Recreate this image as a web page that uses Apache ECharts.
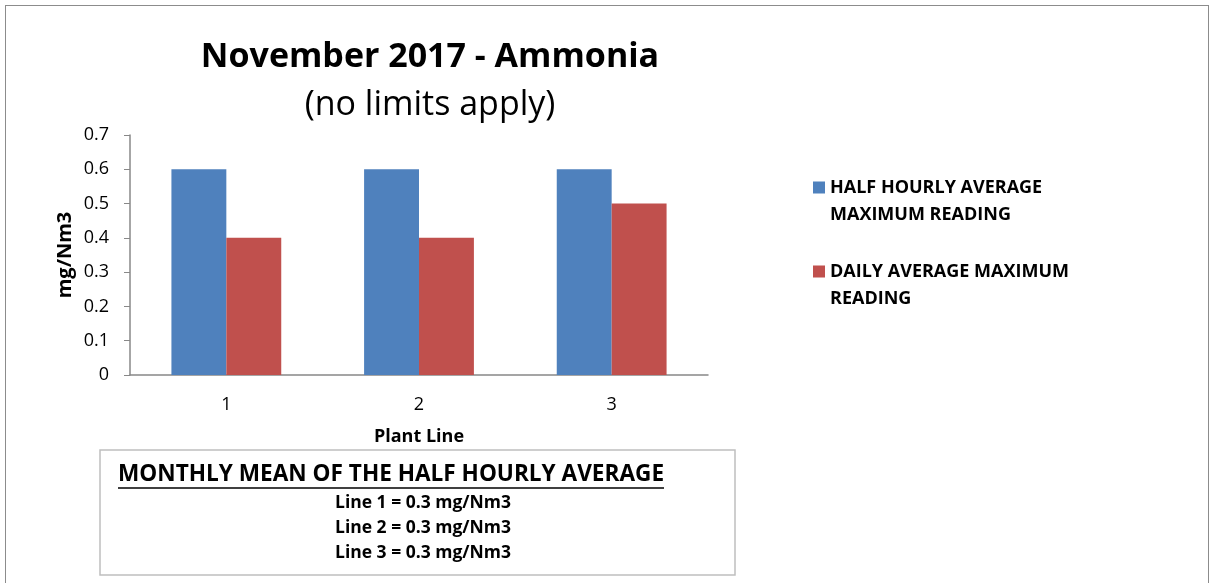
<!DOCTYPE html>
<html>
<head>
<meta charset="utf-8">
<script src="https://cdn.jsdelivr.net/npm/echarts@6/dist/echarts.min.js"></script>
<style>
  html, body { margin: 0; padding: 0; background: #fff; overflow: hidden; }
  #frame { position: absolute; left: 5px; top: 5px; width: 1202px; height: 600px; border: 1px solid #8c8c8c; }
  #main { position: absolute; left: 0; top: 0; width: 1211px; height: 583px; }
</style>
</head>
<body>
<div id="frame"></div>
<div id="main"></div>
<script>
var categories = ['1', '2', '3'];
var halfHourly = [0.6, 0.6, 0.6];
var dailyAvg = [0.4, 0.4, 0.5];
var yTicks = [0, 0.1, 0.2, 0.3, 0.4, 0.5, 0.6, 0.7];
var boxLines = ['Line 1 = 0.3 mg/Nm3', 'Line 2 = 0.3 mg/Nm3', 'Line 3 = 0.3 mg/Nm3'];

var font = 'Open Sans';
var myChart = echarts.init(document.getElementById('main'));

// square at the top of a tall icon so it lines up with the first text line
var legendIcon = 'path://M0 0h12v12h-12z M0 38.9h0.1v0.1h-0.1z';

var graphics = [
    {
        type: 'rect',
        shape: { x: 100, y: 450, width: 635, height: 125 },
        style: { fill: '#fff', stroke: '#bfbfbf', lineWidth: 1.5 }
    },
    {
        type: 'text',
        left: 118, top: 463,
        style: { text: 'MONTHLY MEAN OF THE HALF HOURLY AVERAGE', font: 'bold 22.6px "' + font + '"', fill: '#000' }
    },
    {
        type: 'line',
        shape: { x1: 118, y1: 488, x2: 664, y2: 488 },
        style: { stroke: '#000', lineWidth: 1.5 }
    }
];
boxLines.forEach(function (t, i) {
    graphics.push({
        type: 'text',
        x: 423, y: 503 + i * 25,
        style: { text: t, font: 'bold 17.5px "' + font + '"', fill: '#000', align: 'center', verticalAlign: 'middle' }
    });
});

myChart.setOption({
    animation: false,
    textStyle: { fontFamily: font },
    title: [
        {
            text: 'November 2017 - Ammonia',
            left: 425, top: 35, textAlign: 'center',
            textStyle: { fontSize: 34, fontWeight: 'bold', color: '#000' }
        },
        {
            text: '(no limits apply)',
            left: 425, top: 83, textAlign: 'center',
            textStyle: { fontSize: 34, fontWeight: 'normal', color: '#000' }
        }
    ],
    legend: {
        orient: 'vertical',
        left: 808, top: 169,
        itemWidth: 12, itemHeight: 39, itemGap: 30,
        icon: legendIcon,
        textStyle: { fontSize: 18, fontWeight: 'bold', color: '#000', lineHeight: 27 },
        data: ['HALF HOURLY AVERAGE\nMAXIMUM READING', 'DAILY AVERAGE MAXIMUM\nREADING']
    },
    grid: { left: 130, right: 503, top: 135, bottom: 208 },
    xAxis: {
        type: 'category',
        data: categories,
        name: 'Plant Line',
        nameLocation: 'middle',
        nameGap: 53,
        nameTextStyle: { fontSize: 18, fontWeight: 'bold', color: '#000' },
        axisLine: { lineStyle: { color: '#888', width: 1.5 } },
        axisTick: { show: false },
        axisLabel: { fontSize: 18, color: '#000', margin: 21 }
    },
    yAxis: {
        type: 'value',
        min: 0, max: 0.7, interval: 0.1,
        name: 'mg/Nm3',
        nameLocation: 'middle',
        nameGap: 55,
        nameTextStyle: { fontSize: 20, fontWeight: 'bold', color: '#000' },
        axisLine: { show: true, lineStyle: { color: '#888', width: 1.5 } },
        axisTick: { show: true, length: 6, lineStyle: { color: '#888' } },
        splitLine: { show: false },
        axisLabel: {
            fontSize: 18, color: '#000', margin: 21,
            formatter: function (v) {
                var t = yTicks.find(function (k) { return Math.abs(k - v) < 1e-9; });
                return t === undefined ? '' : String(t);
            }
        }
    },
    series: [
        {
            name: 'HALF HOURLY AVERAGE\nMAXIMUM READING',
            type: 'bar',
            data: halfHourly,
            barGap: '0%',
            barCategoryGap: '43%',
            itemStyle: { color: '#4f81bd' }
        },
        {
            name: 'DAILY AVERAGE MAXIMUM\nREADING',
            type: 'bar',
            data: dailyAvg,
            itemStyle: { color: '#c0504d' }
        }
    ],
    graphic: graphics
});
</script>
</body>
</html>
